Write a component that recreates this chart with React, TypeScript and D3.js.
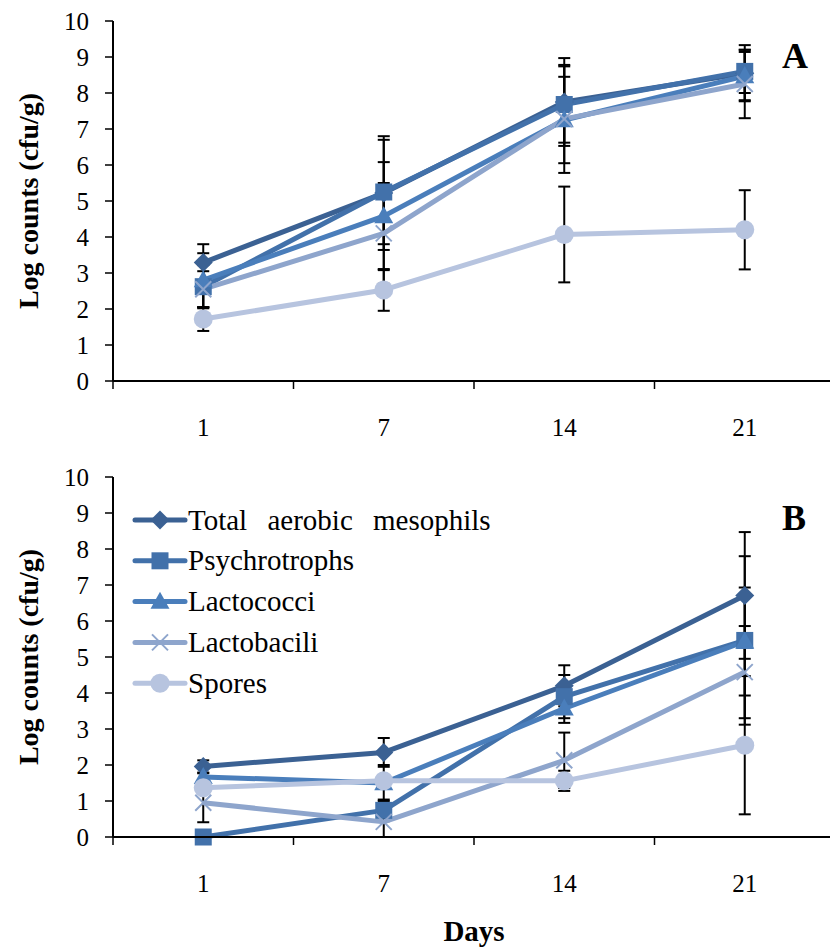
import * as d3 from 'd3';

const days = ['1', '7', '14', '21'];
const seriesNames = ['Total aerobic mesophils', 'Psychrotrophs', 'Lactococci', 'Lactobacili', 'Spores'];
const seriesColors = ['#3B6193', '#4271AA', '#4A7EBB', '#8EA5CC', '#B7C4DF'];
const seriesShapes = ['diamond', 'square', 'triangle', 'cross', 'circle'];
const yTicks = [0, 1, 2, 3, 4, 5, 6, 7, 8, 9, 10];

// panel A
const aTotal = [3.29, 5.22, 7.75, 8.55];
const aPsychro = [2.62, 5.25, 7.68, 8.6];
const aLactococci = [2.8, 4.58, 7.25, 8.47];
const aLactobacili = [2.55, 4.1, 7.28, 8.25];
const aSpores = [1.72, 2.53, 4.07, 4.2];
const aTotalErr = [0.51, 1.58, 1.22, 0.78];
const aPsychroErr = [0.6, 1.45, 1.06, 0.6];
const aLactococciErr = [0.75, 1.5, 1.2, 0.67];
const aLactobaciliErr = [0.5, 1.4, 1.5, 0.95];
const aSporesErr = [0.33, 0.58, 1.33, 1.1];

// panel B
const bTotal = [1.96, 2.35, 4.2, 6.71];
const bPsychro = [0.0, 0.74, 3.9, 5.46];
const bLactococci = [1.67, 1.5, 3.57, 5.43];
const bLactobacili = [0.95, 0.42, 2.13, 4.58];
const bSpores = [1.37, 1.56, 1.56, 2.55];
const bTotalErr = [0.17, 0.4, 0.57, 1.76];
const bPsychroErr = [0, 0.3, 0.6, 2.34];
const bLactococciErr = [0.1, 0.5, 0.4, 1.5];
const bLactobaciliErr = [0.54, 0.5, 0.77, 1.28];
const bSporesErr = [0.1, 0.1, 0.28, 1.92];

const W = 830;
const H = 949;
const left = 113;
const right = 835;
const serif = { fontFamily: "'Liberation Serif', 'Times New Roman', Times, serif" };

const x = d3.scaleBand().domain(days).range([left, right]);
const cx = (d: string) => (x(d) || 0) + x.bandwidth() / 2;

function Marker(props: { shape: string; px: number; py: number; color: string }) {
    const { shape, px, py, color } = props;
    if (shape === 'diamond') {
        const s = 9.5;
        return <path d={`M${px},${py - s}L${px + s},${py}L${px},${py + s}L${px - s},${py}Z`} fill={color} />;
    }
    if (shape === 'square') {
        const s = 8.5;
        return <rect x={px - s} y={py - s} width={2 * s} height={2 * s} fill={color} />;
    }
    if (shape === 'triangle') {
        const s = 9.5;
        return <path d={`M${px},${py - s * 1.05}L${px + s},${py + s * 0.75}L${px - s},${py + s * 0.75}Z`} fill={color} />;
    }
    if (shape === 'cross') {
        const s = 8;
        return (
            <path d={`M${px - s},${py - s}L${px + s},${py + s}M${px + s},${py - s}L${px - s},${py + s}`}
                stroke={color} strokeWidth={2} fill="none" />
        );
    }
    return <circle cx={px} cy={py} r={9.5} fill={color} />;
}

function Panel(props: { top: number; bottom: number; values: number[][]; errors: number[][]; label: string; labelY: number; legend: boolean }) {
    const { top, bottom, values, errors, label, labelY, legend } = props;
    const y = d3.scaleLinear().domain([0, 10]).range([bottom, top]);
    const line = d3.line<number>().x((_, i) => cx(days[i])).y((v) => y(v));
    const ticksX = d3.range(days.length + 1).map((i) => left + i * x.bandwidth());

    return (
        <g>
            {/* error bars */}
            {values.map((vals, s) =>
                vals.map((v, i) => {
                    const e = errors[s][i];
                    if (!e) return null;
                    const hi = Math.min(10, v + e);
                    const lo = Math.max(0, v - e);
                    const px = cx(days[i]);
                    return (
                        <g key={`e${s}-${i}`} stroke="#000" strokeWidth={2}>
                            <line x1={px} x2={px} y1={y(hi)} y2={y(lo)} />
                            {v + e <= 10 && <line x1={px - 6} x2={px + 6} y1={y(hi)} y2={y(hi)} />}
                            {v - e >= 0 && <line x1={px - 6} x2={px + 6} y1={y(lo)} y2={y(lo)} />}
                        </g>
                    );
                })
            )}
            {values.map((vals, s) => (
                <path key={`l${s}`} d={line(vals) || ''} fill="none" stroke={seriesColors[s]} strokeWidth={5} strokeLinejoin="round" />
            ))}
            {values.map((vals, s) =>
                vals.map((v, i) => (
                    <Marker key={`m${s}-${i}`} shape={seriesShapes[s]} px={cx(days[i])} py={y(v)} color={seriesColors[s]} />
                ))
            )}

            {/* axes */}
            <line x1={left} x2={left} y1={top} y2={bottom} stroke="#000" strokeWidth={2} />
            <line x1={left} x2={right} y1={bottom} y2={bottom} stroke="#000" strokeWidth={2} />
            {yTicks.map((t) => (
                <g key={`yt${t}`}>
                    <line x1={left - 8} x2={left} y1={y(t)} y2={y(t)} stroke="#000" strokeWidth={1.5} />
                    <text x={89} y={y(t)} dy="0.35em" textAnchor="end" fontSize={25} style={serif}>{t}</text>
                </g>
            ))}
            {ticksX.map((tx, i) => (
                <line key={`xt${i}`} x1={tx} x2={tx} y1={bottom} y2={bottom + 8} stroke="#000" strokeWidth={1.5} />
            ))}
            {days.map((d) => (
                <text key={`xl${d}`} x={cx(d)} y={bottom + 55} textAnchor="middle" fontSize={25} style={serif}>{d}</text>
            ))}
            <text transform={`translate(38, ${(top + bottom) / 2}) rotate(-90)`} textAnchor="middle"
                fontSize={28} fontWeight="bold" style={serif}>Log counts (cfu/g)</text>
            <text x={782} y={labelY} fontSize={36} fontWeight="bold" style={serif}>{label}</text>

            {legend && seriesNames.map((name, s) => {
                const ly = top + 43 + s * 40.8;
                return (
                    <g key={`lg${s}`}>
                        <line x1={135} x2={185} y1={ly} y2={ly} stroke={seriesColors[s]} strokeWidth={5} strokeLinecap="round" />
                        <Marker shape={seriesShapes[s]} px={160} py={ly} color={seriesColors[s]} />
                        <text x={188} y={ly} dy="0.33em" fontSize={29} wordSpacing={s === 0 ? 13 : 0} style={serif}>{name}</text>
                    </g>
                );
            })}
        </g>
    );
}

export default function App() {
    const aValues = [aTotal, aPsychro, aLactococci, aLactobacili, aSpores];
    const aErrors = [aTotalErr, aPsychroErr, aLactococciErr, aLactobaciliErr, aSporesErr];
    const bValues = [bTotal, bPsychro, bLactococci, bLactobacili, bSpores];
    const bErrors = [bTotalErr, bPsychroErr, bLactococciErr, bLactobaciliErr, bSporesErr];

    return (
        <svg width={W} height={H} style={{ position: 'absolute', left: 0, top: 0 }}>
            <rect width={W} height={H} fill="#fff" />
            <Panel top={21} bottom={381} values={aValues} errors={aErrors} label="A" labelY={68} legend={false} />
            <Panel top={477} bottom={837} values={bValues} errors={bErrors} label="B" labelY={530} legend={true} />
            <text x={(left + right) / 2} y={941} textAnchor="middle" fontSize={29} fontWeight="bold" style={serif}>Days</text>
        </svg>
    );
}
